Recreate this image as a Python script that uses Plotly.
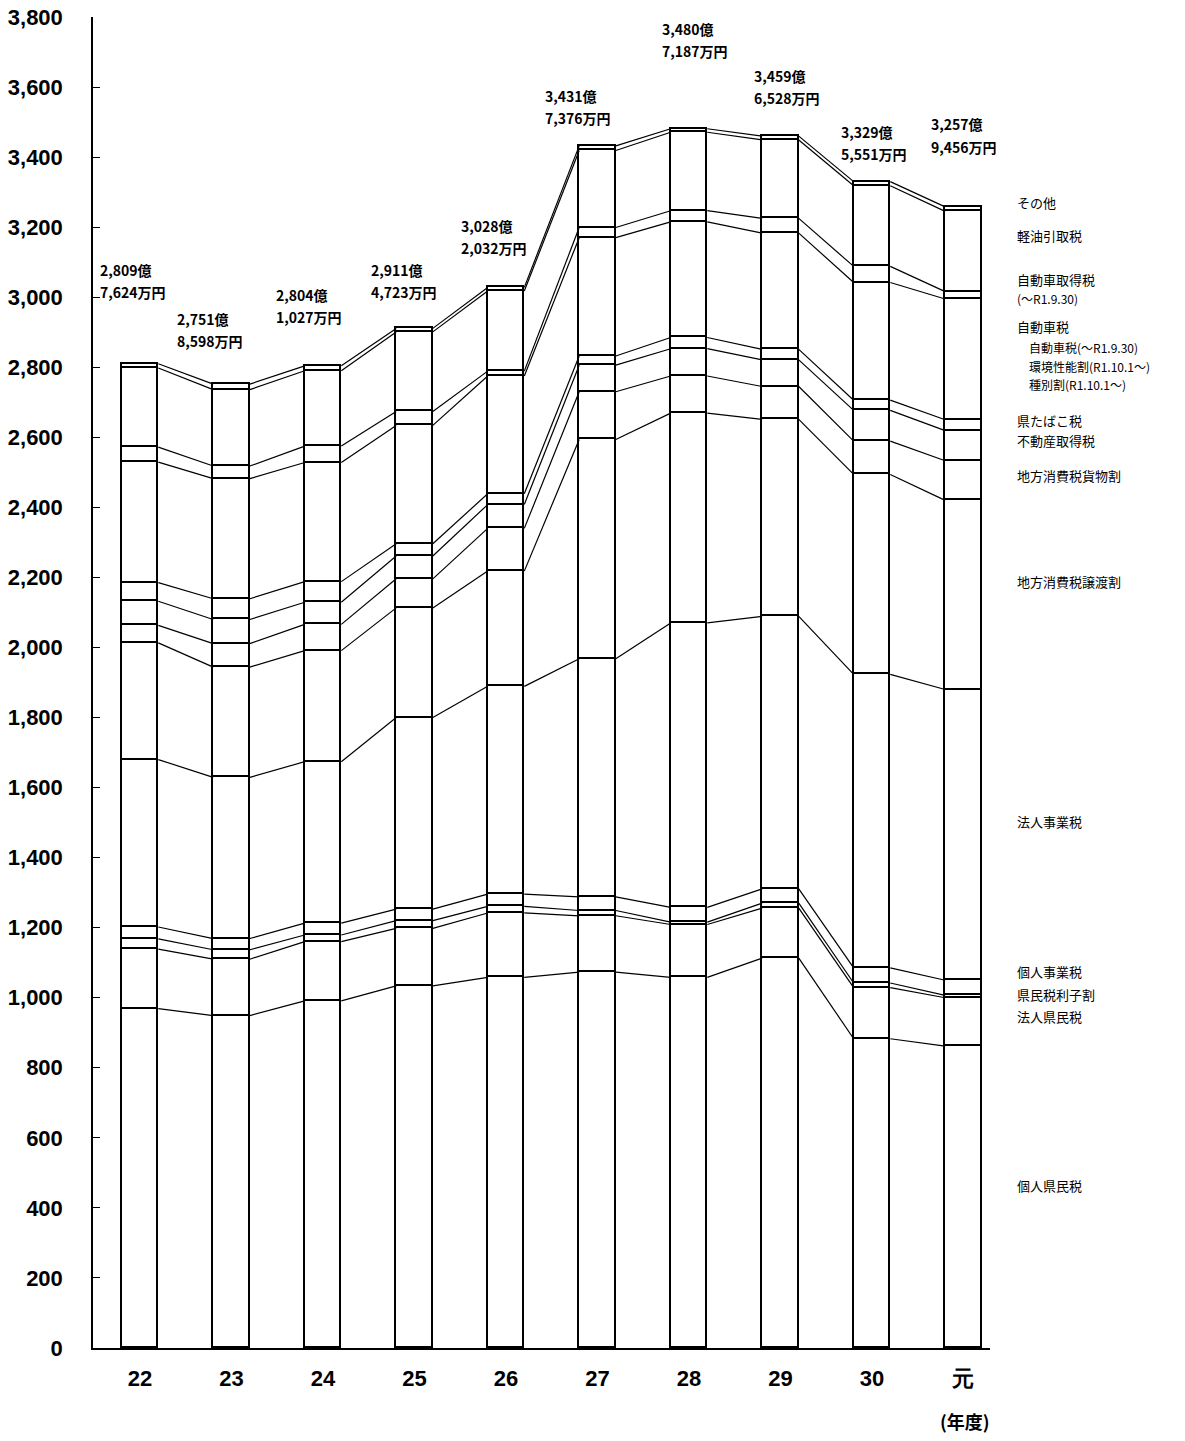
import plotly.graph_objects as go
import numpy as np

# ---- data (億円) ----
years = ["22", "23", "24", "25", "26", "27", "28", "29", "30", "元"]

kojin_kenmin   = [969, 949, 991, 1034, 1058, 1073, 1058, 1113, 883, 862]
hojin_kenmin   = [170, 161, 169, 164, 184, 161, 151, 143, 146, 138]
rishiwari      = [29, 27, 19, 22, 19, 15, 7, 14, 13, 7]
kojin_jigyo    = [34, 32, 34, 33, 35, 39, 42, 41, 43, 43]
hojin_jigyo    = [478, 460, 461, 547, 593, 680, 812, 778, 838, 830]
joto_wari      = [333, 315, 317, 313, 329, 626, 599, 562, 571, 540]
kamotsu_wari   = [50, 67, 75, 83, 122, 136, 106, 94, 95, 113]
fudosan        = [69, 69, 63, 65, 68, 76, 78, 76, 88, 86]
tabako         = [53, 59, 59, 35, 31, 26, 32, 30, 29, 31]
jidosha        = [344, 343, 340, 338, 336, 338, 330, 332, 336, 345]
jidosha_shutoku= [43, 36, 47, 40, 14, 29, 32, 42, 46, 21]
keiyu          = [226, 218, 215, 227, 229, 220, 224, 224, 230, 229]
sonota         = [12, 16, 14, 10, 10, 13, 10, 11, 12, 13]

totals = [2809.76, 2751.86, 2804.10, 2911.47, 3028.20, 3431.74, 3480.72, 3459.65, 3329.56, 3257.95]
total_oku = ["2,809億", "2,751億", "2,804億", "2,911億", "3,028億", "3,431億", "3,480億", "3,459億", "3,329億", "3,257億"]
total_man = ["7,624万円", "8,598万円", "1,027万円", "4,723万円", "2,032万円", "7,376万円", "7,187万円", "6,528万円", "5,551万円", "9,456万円"]

series = [kojin_kenmin, hojin_kenmin, rishiwari, kojin_jigyo, hojin_jigyo, joto_wari,
          kamotsu_wari, fudosan, tabako, jidosha, jidosha_shutoku, keiyu, sonota]

# ---- layout constants ----
BAR_W = 0.40
xs = np.arange(len(years))
lab_dx = [-0.455, -0.62, -0.54, -0.495, -0.515, -0.595, -0.315, -0.315, -0.365, -0.375]
lab_dy = [236, 155, 171, 134, 144, 112, 253, 141, 111, 204]
LINE_HALF = 32

fig = go.Figure()
for s in series:
    fig.add_trace(go.Bar(x=xs, y=s, width=BAR_W, marker=dict(color="white", line=dict(color="black", width=1.9)),
                         showlegend=False, hoverinfo="skip"))

cum = np.cumsum(np.array(series, dtype=float), axis=0)
for row in cum:
    lx, ly = [], []
    for i in range(len(years) - 1):
        lx += [xs[i] + BAR_W / 2, xs[i + 1] - BAR_W / 2, None]
        ly += [row[i], row[i + 1], None]
    fig.add_trace(go.Scatter(x=lx, y=ly, mode="lines", line=dict(color="black", width=1.2),
                             showlegend=False, hoverinfo="skip"))

ann = []
lab_font = dict(family="Noto Sans CJK JP", size=14, color="black", weight="bold")
for i in range(len(years)):
    yc = totals[i] + lab_dy[i]
    ann.append(dict(x=xs[i] + lab_dx[i], y=yc + LINE_HALF, xref="x", yref="y", text=total_oku[i],
                    showarrow=False, xanchor="left", yanchor="middle", font=lab_font))
    ann.append(dict(x=xs[i] + lab_dx[i], y=yc - LINE_HALF, xref="x", yref="y", text=total_man[i],
                    showarrow=False, xanchor="left", yanchor="middle", font=lab_font))

legend_labels = ["その他", "軽油引取税", "自動車取得税", "(～R1.9.30)", "自動車税",
                 "自動車税(～R1.9.30)", "環境性能割(R1.10.1～)", "種別割(R1.10.1～)",
                 "県たばこ税", "不動産取得税", "地方消費税貨物割", "地方消費税譲渡割",
                 "法人事業税", "個人事業税", "県民税利子割", "法人県民税", "個人県民税"]
legend_y = [3269, 3177, 3051, 2997, 2917, 2857, 2803, 2751, 2649, 2591, 2491, 2189,
            1503, 1074, 1009, 946, 463]
legend_sub = [False, False, False, False, False, True, True, True, False, False, False, False,
              False, False, False, False, False]
for t, yv, sub in zip(legend_labels, legend_y, legend_sub):
    ann.append(dict(x=1.041 if sub else 1.028, y=yv, xref="paper", yref="y", text=t, showarrow=False,
                    xanchor="left", yanchor="middle",
                    font=dict(family="Noto Sans CJK JP", size=12 if (sub or t.startswith("(")) else 13,
                              color="black")))

ann.append(dict(x=0.972, y=-0.0545, xref="paper", yref="paper", text="(年度)", showarrow=False,
                xanchor="center", yanchor="middle",
                font=dict(family="Noto Sans CJK JP", size=18, color="black", weight="bold")))

fig.update_layout(
    width=1169, height=1425,
    margin=dict(l=85, r=187, t=9, b=85, autoexpand=False),
    plot_bgcolor="white", paper_bgcolor="white",
    barmode="stack", bargap=0,
    annotations=ann,
    xaxis=dict(range=[-0.514, 9.29], tickvals=list(xs), ticktext=years, showline=True,
               linecolor="black", linewidth=1.5, showgrid=False, zeroline=False, ticks="",
               automargin=False,
               tickfont=dict(family="Liberation Sans", size=22, color="black", weight="bold"),
               ticklabelstandoff=10),
    yaxis=dict(range=[0, 3800], dtick=200, tickformat=",", showline=True, linecolor="black",
               linewidth=1.5, showgrid=False, zeroline=False, ticks="inside", ticklen=7,
               tickcolor="black", ticklabeloverflow="allow", automargin=False,
               tickfont=dict(family="Liberation Sans", size=22, color="black", weight="bold"),
               ticklabelstandoff=24),
)

fig.write_html("out.html")
